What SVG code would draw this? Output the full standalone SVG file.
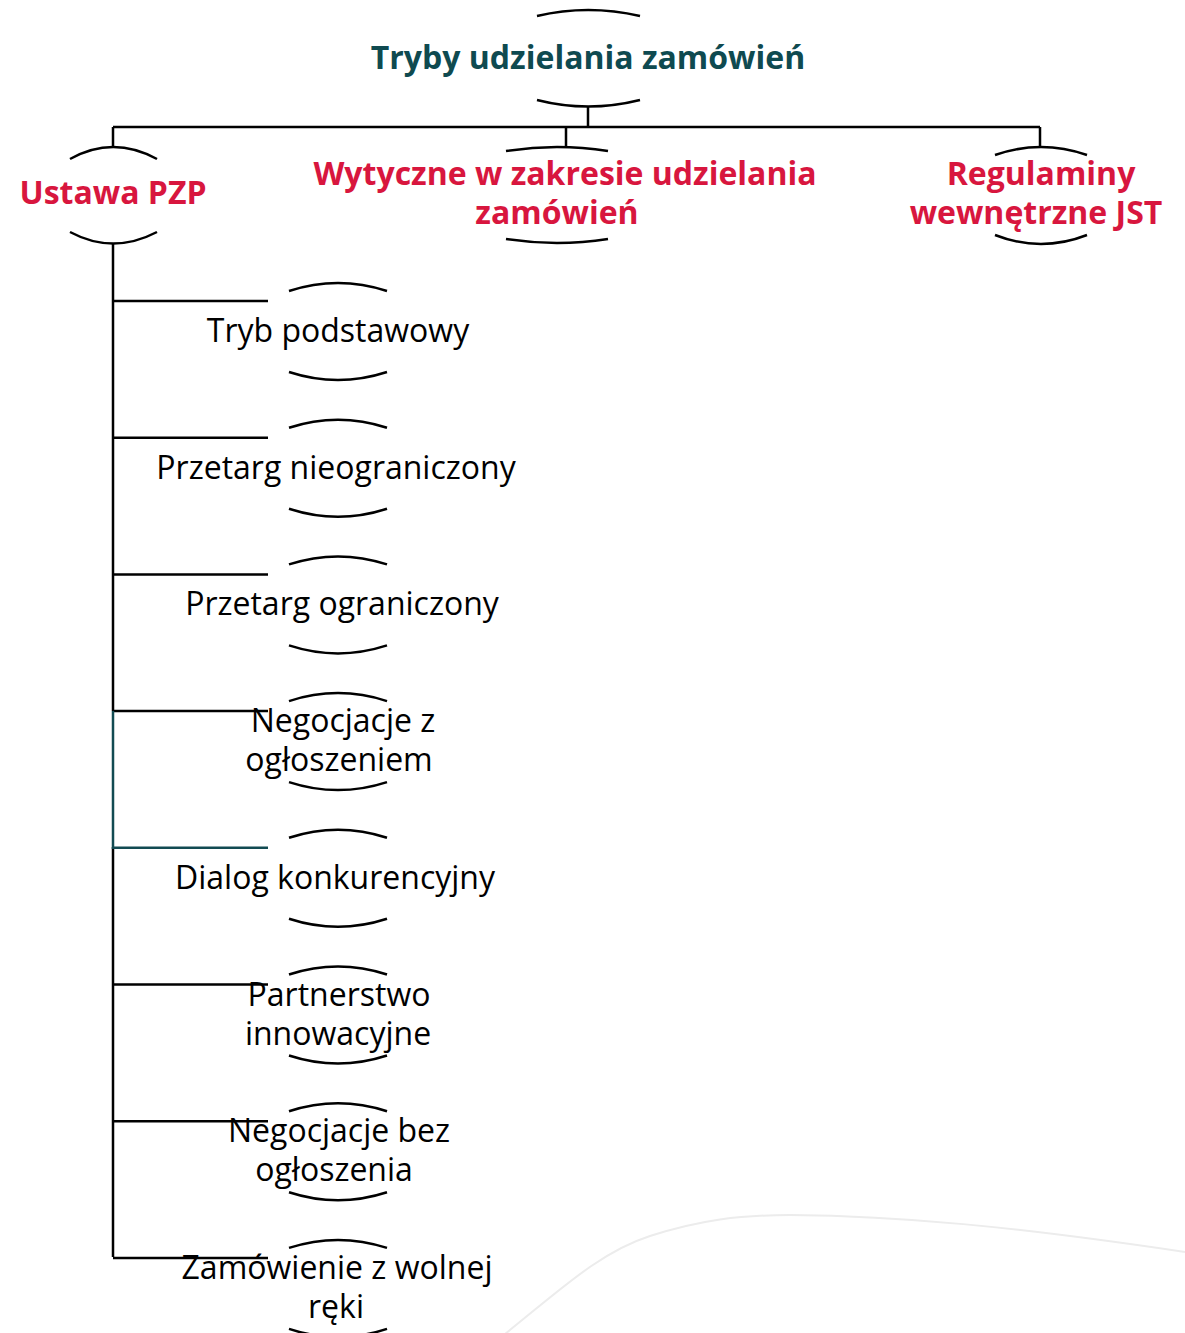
<svg xmlns="http://www.w3.org/2000/svg" width="1185" height="1333" viewBox="0 0 1185 1333">
<style>
.arc{fill:none;stroke:#000;stroke-width:2.5}
.con{fill:none;stroke:#000;stroke-width:2.5}
.teal{stroke:#124b52}
.t{font-family:"Open Sans","Noto Sans","DejaVu Sans",sans-serif;text-anchor:middle}
.title{font-size:32px;font-weight:700;fill:#0f4a50}
.red{font-size:32px;font-weight:700;fill:#d8163e}
.child{font-size:32px;fill:#000}
</style>
<rect width="1185" height="1333" fill="#fff"/>
<path d="M505,1334 C560,1290 600,1252 650,1236 C700,1220 740,1215 790,1215 C900,1216 1010,1226 1185,1252" fill="none" stroke="#ececec" stroke-width="2"/>
<g id="connectors">
<path class="con" d="M588,107 V127 M113,127 H1040 M113,127 V147 M566,127 V147 M1040,127 V147"/>
<path class="con" d="M113,243 V711 M113,847 V1257"/>
<path class="con" d="M113,301 H268 M113,437.7 H268 M113,574.4 H268 M113,711 H268 M113,984.5 H268 M113,1121.2 H268 M113,1257.9 H268"/>
<path class="con teal" d="M113,711 V847.8 H268"/>
</g>
<g id="n-root">
<path class="arc" d="M537,16 Q588,4 640,16 M537,100 Q588,113 640,100"/>
<text class="t title" x="588" y="69">Tryby udzielania zamówień</text>
</g>
<g id="n-ustawa">
<path class="arc" d="M70,159 Q113,135 157,159 M70,232 Q113,255 157,232"/>
<text class="t red" x="113" y="204">Ustawa PZP</text>
</g>
<g id="n-wytyczne">
<path class="arc" d="M506,151 Q557,143 608,151 M506,239 Q557,247 608,239"/>
<text class="t red" y="185"><tspan x="565">Wytyczne w zakresie udzielania</tspan><tspan x="557" dy="39">zamówień</tspan></text>
</g>
<g id="n-regulaminy">
<path class="arc" d="M995,155 Q1041,139 1087,155 M995,235 Q1041,253 1087,235"/>
<text class="t red" y="185"><tspan x="1041">Regulaminy</tspan><tspan x="1036" dy="39">wewnętrzne JST</tspan></text>
</g>
<g id="n1" transform="translate(0,0)">
<path class="arc" d="M289,291 Q338,275 387,291 M289,372 Q338,388 387,372"/>
<text class="t child" x="338" y="342">Tryb podstawowy</text>
</g>
<g id="n2" transform="translate(0,136.7)">
<path class="arc" d="M289,291 Q338,275 387,291 M289,372 Q338,388 387,372"/>
<text class="t child" x="336" y="342">Przetarg nieograniczony</text>
</g>
<g id="n3" transform="translate(0,273.4)">
<path class="arc" d="M289,291 Q338,275 387,291 M289,372 Q338,388 387,372"/>
<text class="t child" x="342" y="342">Przetarg ograniczony</text>
</g>
<g id="n4" transform="translate(0,410.1)">
<path class="arc" d="M289,291 Q338,275 387,291 M289,372 Q338,388 387,372"/>
<text class="t child" y="322"><tspan x="343">Negocjacje z</tspan><tspan x="339" dy="39">ogłoszeniem</tspan></text>
</g>
<g id="n5" transform="translate(0,546.8)">
<path class="arc" d="M289,291 Q338,275 387,291 M289,372 Q338,388 387,372"/>
<text class="t child" x="335" y="342">Dialog konkurencyjny</text>
</g>
<g id="n6" transform="translate(0,683.5)">
<path class="arc" d="M289,291 Q338,275 387,291 M289,372 Q338,388 387,372"/>
<text class="t child" y="322"><tspan x="339">Partnerstwo</tspan><tspan x="338" dy="39">innowacyjne</tspan></text>
</g>
<g id="n7" transform="translate(0,820.2)">
<path class="arc" d="M289,291 Q338,275 387,291 M289,372 Q338,388 387,372"/>
<text class="t child" y="322"><tspan x="339">Negocjacje bez</tspan><tspan x="334" dy="39">ogłoszenia</tspan></text>
</g>
<g id="n8" transform="translate(0,956.9)">
<path class="arc" d="M289,291 Q338,275 387,291 M289,372 Q338,388 387,372"/>
<text class="t child" y="322"><tspan x="337">Zamówienie z wolnej</tspan><tspan x="336" dy="39">ręki</tspan></text>
</g>
</svg>
